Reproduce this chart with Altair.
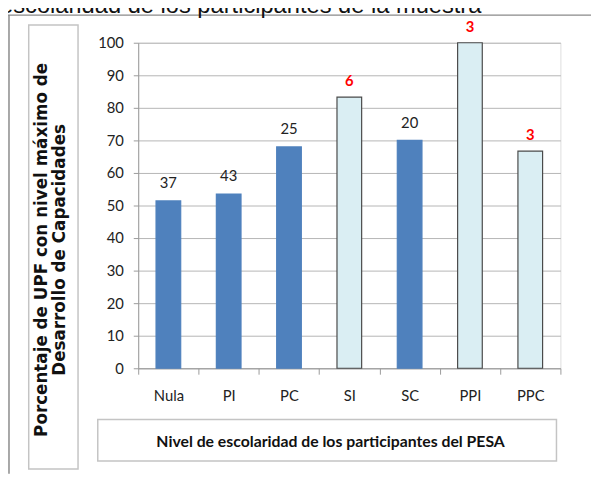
import altair as alt
import pandas as pd

categorias = ["Nula", "PI", "PC", "SI", "SC", "PPI", "PPC"]
porcentajes = [51.4, 53.5, 68.0, 83.3, 70.0, 100.0, 66.7]
n_upf = [37, 43, 25, 6, 20, 3, 3]
y_ticks = list(range(0, 101, 10))

titulo_y1 = "Porcentaje  de UPF con nivel máximo de"
titulo_y2 = "Desarrollo de Capacidades"
titulo_x = "Nivel de escolaridad de los participantes del PESA"
texto_sup = "escolaridad de los participantes de la muestra"

df = pd.DataFrame({"cat": categorias, "pct": porcentajes, "n": n_upf})

W, H = 428, 330
base = alt.Chart(df)

xenc = alt.X("cat:N", sort=categorias,
             scale=alt.Scale(paddingInner=0, paddingOuter=0),
             axis=alt.Axis(title=None, labelAngle=0, tickBand="extent",
                           labelFont="Lato", labelFontSize=15, labelColor="#222",
                           tickColor="#9a9a9a", domainColor="#9a9a9a", tickSize=6,
                           labelPadding=15))
yenc = alt.Y("pct:Q", scale=alt.Scale(domain=[0, 100], nice=False),
             axis=alt.Axis(title=None, values=y_ticks, grid=True, gridColor="#b5b5b5",
                           labelOverlap=False,
                           labelFont="Lato", labelFontSize=15, labelColor="#222",
                           tickColor="#9a9a9a", domainColor="#9a9a9a", tickSize=5,
                           labelPadding=10))

small = alt.datum.n < 10

bars = base.mark_bar(size=25, strokeWidth=1.2).encode(
    x=xenc, y=yenc,
    color=alt.condition(small, alt.value("#DAEEF3"), alt.value("#4F81BD")),
    stroke=alt.condition(small, alt.value("#4a4a4a"), alt.value("#4F81BD")),
)

lab_black = base.transform_filter(alt.datum.n >= 10).mark_text(
    font="Lato", fontSize=15, color="#222", baseline="alphabetic", dy=-13
).encode(x=xenc, y=yenc, text="n:Q")

lab_red = base.transform_filter(small).mark_text(
    font="Lato", fontSize=15, fontWeight="bold", color="#FF0000",
    baseline="alphabetic", dy=-11
).encode(x=xenc, y=yenc, text="n:Q")

deco = alt.Chart(pd.DataFrame({"k": [0]}))

frame_top = deco.mark_rule(color="#8a8a8a", strokeWidth=1.5).encode(
    x=alt.value(-132), x2=alt.value(459), y=alt.value(-28))
frame_left = deco.mark_rule(color="#8a8a8a", strokeWidth=1.5).encode(
    x=alt.value(-131), y=alt.value(-28), y2=alt.value(437))

box_y = deco.mark_rect(fill="white", stroke="#c4c4c4", strokeWidth=1.5).encode(
    x=alt.value(-111), x2=alt.value(-61), y=alt.value(-18), y2=alt.value(432))
box_x = deco.mark_rect(fill="white", stroke="#c4c4c4", strokeWidth=1.5).encode(
    x=alt.value(-41), x2=alt.value(424), y=alt.value(382), y2=alt.value(424))

ty1 = deco.mark_text(text=titulo_y1, font="DejaVu Sans", fontSize=17, fontWeight="bold",
                     angle=270, align="center", baseline="middle", color="#111").encode(
    x=alt.value(-97), y=alt.value(210))
ty2 = deco.mark_text(text=titulo_y2, font="DejaVu Sans", fontSize=17, fontWeight="bold",
                     angle=270, align="center", baseline="middle", color="#111").encode(
    x=alt.value(-79), y=alt.value(210))
tx = deco.mark_text(text=titulo_x, font="Lato", fontSize=16, fontWeight="bold",
                    align="center", baseline="middle", color="#111").encode(
    x=alt.value(195), y=alt.value(405))
tsup = deco.mark_text(text=texto_sup, font="Liberation Sans", fontSize=24,
                      align="left", baseline="alphabetic", color="#111").encode(
    x=alt.value(-140), y=alt.value(-30))

chart = alt.layer(
    frame_top, frame_left, box_y, box_x, ty1, ty2, tx, tsup,
    bars, lab_black, lab_red
).properties(
    width=W, height=H,
    autosize=alt.AutoSizeParams(type="none"),
    padding={"left": 132, "top": 32, "right": 31, "bottom": 107},
).configure_view(stroke=None).configure(background="white")

chart.save("out.html", embed_options={"renderer": "svg", "actions": False})
